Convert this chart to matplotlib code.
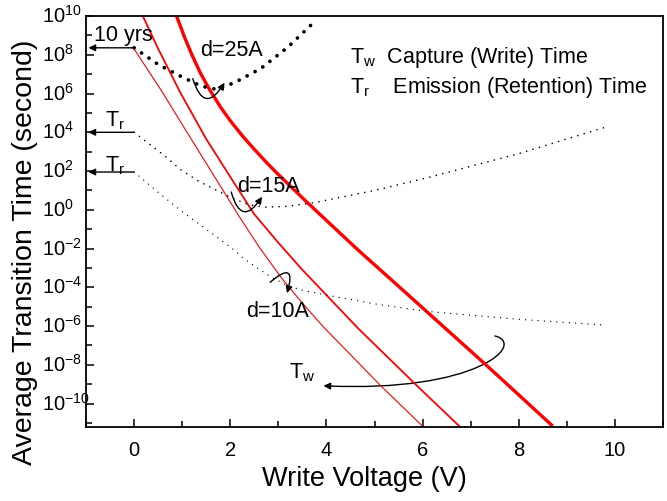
import numpy as np
import matplotlib.pyplot as plt
import matplotlib.transforms as mtransforms
from matplotlib.path import Path
from matplotlib.patches import FancyArrowPatch
from matplotlib.ticker import LogLocator, NullFormatter, MultipleLocator

plt.rcParams['font.family'] = ['Liberation Sans', 'DejaVu Sans']
plt.rcParams['mathtext.fontset'] = 'custom'
plt.rcParams['mathtext.rm'] = 'Liberation Sans'
plt.rcParams['mathtext.it'] = 'Liberation Sans:italic'
plt.rcParams['mathtext.default'] = 'regular'

# write (capture) time, red curves: voltage and log10(time)
v_w10 = [0.0, 0.58, 1.1, 1.6, 2.19, 2.6, 3.05, 3.5, 3.94, 5.13, 5.98]
t_w10 = [8.3, 6.1, 4.0, 2.0, -0.36, -1.92, -3.47, -4.82, -6.05, -9.08, -11.12]
v_w15 = [0.19, 0.5, 0.95, 1.5, 2.0, 2.49, 3.0, 3.5, 4.66, 5.9, 6.8]
t_w15 = [9.95, 8.31, 6.1, 3.65, 1.7, -0.2, -1.7, -3.1, -6.12, -9.12, -11.25]
v_w25 = [0.89, 1.05, 1.2, 1.38, 1.57, 1.8, 2.0, 2.25, 2.5, 2.75, 3.0, 3.57, 4.66, 5.48, 7.34, 8.68]
t_w25 = [9.95, 8.9, 8.01, 7.05, 6.2, 5.29, 4.6, 3.82, 3.12, 2.45, 1.82, 0.45, -2.08, -3.9, -8.05, -11.1]

# retention (emission) time, dotted curves
v_r10 = [0.0, 0.5, 1.0, 1.5, 2.04, 2.25, 2.5, 2.87, 3.2, 3.5, 4.0, 5.0, 6.04, 8.0, 9.8]
t_r10 = [1.95, 0.9, -0.1, -1.0, -2.0, -2.45, -2.9, -3.5, -3.92, -4.15, -4.4, -4.85, -5.23, -5.65, -5.95]
v_r15 = [0.0, 0.68, 0.95, 1.36, 2.04, 2.4, 2.74, 3.2, 3.77, 5.0, 6.17, 8.0, 9.8]
t_r15 = [4.0, 2.7, 2.1, 1.45, 0.6, 0.25, 0.14, 0.18, 0.38, 1.0, 1.7, 2.9, 4.26]
v_r25 = [0.0, 0.5, 1.0, 1.4, 1.7, 2.08, 2.64, 3.2, 3.77]
t_r25 = [8.36, 7.5, 6.85, 6.38, 6.22, 6.55, 7.3, 8.4, 9.75]

fig = plt.figure(figsize=(6.67, 5.01), dpi=100)
ax = fig.add_axes([0.129, 0.148, 0.865, 0.820])

red = '#ff0000'
ax.plot(v_w10, 10.0 ** np.array(t_w10), color=red, lw=0.8)
ax.plot(v_w15, 10.0 ** np.array(t_w15), color=red, lw=1.3)
ax.plot(v_w25, 10.0 ** np.array(t_w25), color=red, lw=2.4)

ax.plot(v_r10, 10.0 ** np.array(t_r10), color='k', lw=1.0, ls=(0, (0.01, 4.5)),
        dash_capstyle='round')
ax.plot(v_r15, 10.0 ** np.array(t_r15), color='k', lw=1.2, ls=(0, (0.01, 4.0)),
        dash_capstyle='round')
ax.plot(v_r25, 10.0 ** np.array(t_r25), color='k', lw=2.7, ls=(0, (0.01, 2.4)),
        dash_capstyle='round')

ax.set_yscale('log')
ax.set_xlim(-1, 11)
ax.set_ylim(10 ** -11.2, 1e10)
ax.yaxis.set_major_locator(LogLocator(base=100, numticks=20))
ax.yaxis.set_minor_locator(LogLocator(base=10, subs=(1.0,), numticks=30))
ax.yaxis.set_minor_formatter(NullFormatter())
ax.xaxis.set_major_locator(MultipleLocator(2))
ax.xaxis.set_minor_locator(MultipleLocator(1))
ax.tick_params(which='both', direction='in', labelsize=14.5, width=1.1)
ax.tick_params(which='major', length=6)
ax.tick_params(which='minor', length=4)
ax.tick_params(axis='x', which='major', pad=10)
ax.tick_params(axis='y', labelleft=False)
for s in ax.spines.values():
    s.set_linewidth(1.3)

# y labels: the "10" of each label starts at the same x, exponents stick out
ylo, yhi = ax.get_ylim()
trans = mtransforms.blended_transform_factory(ax.transAxes, ax.transData)
for loc in ax.yaxis.get_majorticklocs():
    if ylo <= loc <= yhi:
        ax.text(-0.0763, loc, '$10^{%d}$' % round(np.log10(loc)), fontsize=14.5,
                transform=trans, ha='left', va='center', clip_on=False)

fig.text(0.546, 0.044, 'Write Voltage (V)', fontsize=19.5, ha='center', va='center')
fig.text(0.037, 0.497, 'Average Transition Time (second)', fontsize=20.5,
         rotation=90, ha='center', va='center')

arw = dict(arrowstyle='-|>', color='k', lw=1.0, mutation_scale=10, shrinkA=0, shrinkB=0)
ax.annotate('', xy=(-0.95, 10 ** 8.36), xytext=(0, 10 ** 8.36), arrowprops=arw)
ax.annotate('', xy=(-0.95, 1e4), xytext=(0, 1e4), arrowprops=arw)
ax.annotate('', xy=(-0.95, 10 ** 1.95), xytext=(0, 10 ** 1.95), arrowprops=arw)

fs = 15.5
ax.text(-0.23, 10 ** 8.97, '10 yrs', fontsize=fs, ha='center', va='center')
ax.text(-0.39, 10 ** 4.6, 'T$_r$', fontsize=fs, ha='center', va='center')
ax.text(-0.39, 10 ** 2.3, 'T$_r$', fontsize=fs, ha='center', va='center')
ax.text(2.02, 10 ** 8.2, 'd=25A', fontsize=fs, ha='center', va='center')
ax.text(2.8, 10 ** 1.18, 'd=15A', fontsize=fs, ha='center', va='center')
ax.text(2.99, 10 ** -5.23, 'd=10A', fontsize=fs, ha='center', va='center')
ax.text(3.5, 10 ** -8.4, 'T$_w$', fontsize=fs, ha='center', va='center')

ax.text(0.4575, 0.898, 'T$_w$  Capture (Write) Time', fontsize=fs,
        transform=ax.transAxes, ha='left', va='center')
ax.text(0.4575, 0.827, 'T$_r$    Emission (Retention) Time', fontsize=fs,
        transform=ax.transAxes, ha='left', va='center')

# curved arrows marking each thickness
arc = dict(arrowstyle='-|>', color='k', lw=1.0, mutation_scale=10, shrinkA=0, shrinkB=0)
ax.annotate('', xy=(1.88, 10 ** 6.56), xytext=(1.22, 10 ** 6.77),
            arrowprops=dict(arc, connectionstyle='arc3,rad=1.1'))
ax.annotate('', xy=(2.66, 10 ** 0.67), xytext=(2.02, 10 ** 0.92),
            arrowprops=dict(arc, connectionstyle='arc3,rad=1.1'))
ax.annotate('', xy=(3.18, 10 ** -4.3), xytext=(2.83, 10 ** -3.74),
            arrowprops=dict(arc, connectionstyle='arc3,rad=-1.7'))

hook = Path([(7.505, 10 ** -6.51), (8.165, 10 ** -6.92), (7.134, 10 ** -9.45), (3.938, 10 ** -9.08)],
            [Path.MOVETO, Path.CURVE4, Path.CURVE4, Path.CURVE4])
ax.add_patch(FancyArrowPatch(path=hook, arrowstyle='-|>', color='k', lw=1.0,
                             mutation_scale=10, transform=ax.transData))

fig.savefig('out.png', dpi=100)
